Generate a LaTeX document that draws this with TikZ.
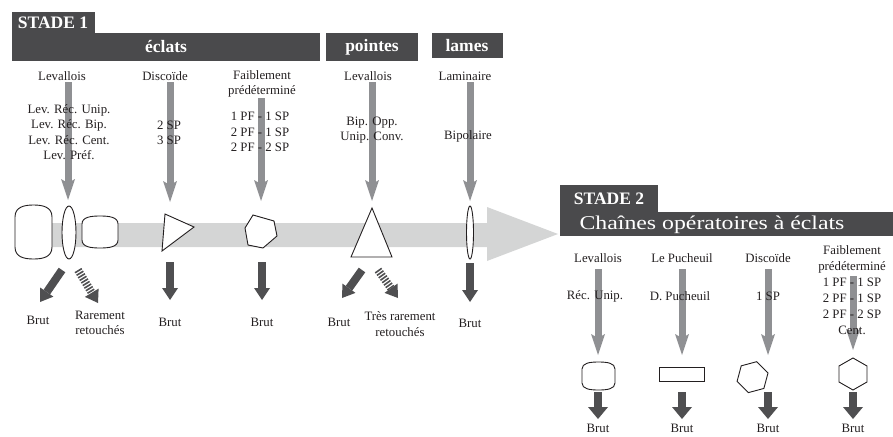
\documentclass[tikz,border=0pt]{standalone}
\usepackage{fontspec}
\setmainfont{Liberation Serif}
\usetikzlibrary{arrows.meta}
\definecolor{hdr}{HTML}{4A4A4C}
\definecolor{garr}{HTML}{8F9093}
\definecolor{darr}{HTML}{4F4F51}
\definecolor{bandc}{HTML}{D4D5D5}
\definecolor{ink}{HTML}{231F20}
\begin{document}
\begin{tikzpicture}[x=1pt,y=-1pt,
  lbl/.style={font=\fontsize{12.8}{15.5}\selectfont, text=ink, inner sep=0pt, align=center},
  hbox/.style={fill=hdr, draw=none},
  htxt/.style={text=white, font=\bfseries\fontsize{17.5}{20}\selectfont, inner sep=0pt},
  garrow/.style={draw=garr, line width=7pt, -{Stealth[length=21pt,width=14pt,inset=4pt,line width=0pt]}},
  darrow/.style={draw=darr, line width=8pt, -{Triangle[length=12pt,width=16pt,line width=0pt]}},
  darrowb/.style={draw=darr, line width=8.5pt, -{Triangle[length=12pt,width=20pt,line width=0pt]}},
  harrow/.style={draw=darr, line width=8pt, dash pattern=on 1.6pt off 1.4pt, -{Triangle[length=12pt,width=16pt,line width=0pt]}},
  shp/.style={draw=ink, line width=0.9pt, fill=white},
]
\useasboundingbox (0,0) rectangle (893,436);

% ---------------- headers
\fill[hbox] (12,12) rectangle (95,34);
\fill[hbox] (12,33) rectangle (320,61);
\fill[hbox] (326,33) rectangle (418,61);
\fill[hbox] (432,33) rectangle (503,58);
\node[htxt] (stade1) at (53,23) {STADE 1};
\node[htxt] (eclats) at (166,47) {éclats};
\node[htxt] (pointes) at (372,47) {pointes};
\node[htxt] (lames) at (467,45.5) {lames};

\fill[hbox] (560,185) rectangle (658,213);
\fill[hbox] (560,212) rectangle (893,236);
\node[htxt] (stade2) at (609,199) {STADE 2};
\node[text=white, inner sep=0pt, font=\fontsize{19.5}{22}\selectfont] (chaines) at (712,225) {\scalebox{1.22}[1]{Chaînes opératoires à éclats}};

% ---------------- big band arrow
\fill[bandc] (20,223) -- (487,223) -- (487,207) -- (558,234) -- (487,261) -- (487,247) -- (20,247) -- cycle;

% ---------------- gray arrows (stage 1)
\coordinate (g1s) at (68,82);   \coordinate (g1e) at (68,200);
\coordinate (g2s) at (170,82);  \coordinate (g2e) at (170,202);
\coordinate (g3s) at (261,98);  \coordinate (g3e) at (261,201);
\coordinate (g4s) at (372,82);  \coordinate (g4e) at (372,201);
\coordinate (g5s) at (470,82);  \coordinate (g5e) at (470,201);
\draw[garrow] (g1s) -- (g1e);
\draw[garrow] (g2s) -- (g2e);
\draw[garrow] (g3s) -- (g3e);
\draw[garrow] (g4s) -- (g4e);
\draw[garrow] (g5s) -- (g5e);

% ---------------- gray arrows (stage 2)
\coordinate (h1s) at (598,269); \coordinate (h1e) at (598,355);
\coordinate (h2s) at (682,269); \coordinate (h2e) at (682,355);
\coordinate (h3s) at (768,269); \coordinate (h3e) at (768,355);
\coordinate (h4s) at (853,276); \coordinate (h4e) at (853,350);
\draw[garrow] (h1s) -- (h1e);
\draw[garrow] (h2s) -- (h2e);
\draw[garrow] (h3s) -- (h3e);
\draw[garrow] (h4s) -- (h4e);

% ---------------- stage 1 shapes
\draw[shp] (15,217) .. controls (15,207) and (24,205) .. (33.5,205)
  .. controls (43,205) and (52,207) .. (52,217) -- (52,247)
  .. controls (52,257) and (43,259) .. (33.5,259)
  .. controls (24,259) and (15,257) .. (15,247) -- cycle;
\draw[shp] (69,232.5) ellipse [x radius=7, y radius=26.5];
\draw[shp] (82,224) .. controls (82,217) and (91,216) .. (100,216)
  .. controls (109,216) and (118,217) .. (118,224) -- (118,240)
  .. controls (118,247) and (109,248) .. (100,248)
  .. controls (91,248) and (82,247) .. (82,240) -- cycle;
\draw[shp] (165,214) -- (194,227) -- (162,251) -- cycle;
\draw[shp] (253,215) -- (274,221) -- (277,236) -- (263,248) -- (248,245) -- (245,228) -- cycle;
\draw[shp] (372,208) -- (392,257) -- (351,257) -- cycle;
\draw[shp] (470,232.5) ellipse [x radius=3.5, y radius=26.5];

% ---------------- stage 2 shapes
\draw[shp] (582,369) .. controls (582,363) and (590,362) .. (598.5,362)
  .. controls (607,362) and (615,363) .. (615,369) -- (615,383)
  .. controls (615,389) and (607,390) .. (598.5,390)
  .. controls (590,390) and (582,389) .. (582,383) -- cycle;
\draw[shp] (659,367) rectangle (704,381);
\draw[shp] (768,373) ++(105:16) -- ++(165:16) -- ++(225:16) -- ++(285:16) -- ++(345:16) -- ++(45:16) -- cycle;
\draw[shp] (853,358) -- (867,366) -- (867,382) -- (853,390) -- (839,382) -- (839,366) -- cycle;

% ---------------- dark arrows stage 1
\coordinate (d1s) at (62,270);  \coordinate (d1e) at (40,302);
\coordinate (d2s) at (78,270);  \coordinate (d2e) at (98,303);
\coordinate (d3s) at (170,262); \coordinate (d3e) at (170,300);
\coordinate (d4s) at (262,262); \coordinate (d4e) at (262,300);
\coordinate (d5s) at (362,270); \coordinate (d5e) at (342,298);
\coordinate (d6s) at (378,270); \coordinate (d6e) at (398,298);
\coordinate (d7s) at (470,263); \coordinate (d7e) at (470,302);
\draw[darrow] (d1s) -- (d1e);
\draw[harrow] (d2s) -- (d2e);
\draw[darrow] (d3s) -- (d3e);
\draw[darrow] (d4s) -- (d4e);
\draw[darrow] (d5s) -- (d5e);
\draw[harrow] (d6s) -- (d6e);
\draw[darrow] (d7s) -- (d7e);

% ---------------- dark arrows stage 2
\coordinate (e1s) at (598,392); \coordinate (e1e) at (598,419);
\coordinate (e2s) at (682,392); \coordinate (e2e) at (682,419);
\coordinate (e3s) at (768,392); \coordinate (e3e) at (768,419);
\coordinate (e4s) at (853,392); \coordinate (e4e) at (853,419);
\draw[darrowb] (e1s) -- (e1e);
\draw[darrowb] (e2s) -- (e2e);
\draw[darrowb] (e3s) -- (e3e);
\draw[darrowb] (e4s) -- (e4e);

% ---------------- stage 1 labels
\node[lbl] (levt) at (62,76) {Levallois};
\node[lbl] (disct) at (165,76) {Discoïde};
\node[lbl] (faibt) at (262,84) {Faiblement\\prédéterminé};
\node[lbl] (levpt) at (368,76) {Levallois};
\node[lbl] (lamt) at (465,76) {Laminaire};
\node[lbl] (levl) at (69,132) {Lev. Réc. Unip.\\Lev. Réc. Bip.\\Lev. Réc. Cent.\\Lev. Préf.};
\node[lbl] (discl) at (169,133) {2 SP\\3 SP};
\node[lbl] (faibl) at (260,132) {1 PF - 1 SP\\2 PF - 1 SP\\2 PF - 2 SP};
\node[lbl] (levpl) at (372,130) {Bip. Opp.\\Unip. Conv.};
\node[lbl] (laml) at (468,136) {Bipolaire};

\node[lbl] (b1) at (38,320) {Brut};
\node[lbl] (r1) at (100,323) {Rarement\\retouchés};
\node[lbl] (b2) at (170,322) {Brut};
\node[lbl] (b3) at (262,322) {Brut};
\node[lbl] (b4) at (339,322) {Brut};
\node[lbl] (r2) at (400,324) {Très rarement\\retouchés};
\node[lbl] (b5) at (470,323) {Brut};

% ---------------- stage 2 labels
\node[lbl] (l2a) at (598,258) {Levallois};
\node[lbl] (l2b) at (682,258) {Le Pucheuil};
\node[lbl] (l2c) at (768,258) {Discoïde};
\node[lbl, font=\fontsize{12.8}{16}\selectfont] (l2d) at (852,290) {Faiblement\\prédéterminé\\1 PF - 1 SP\\2 PF - 1 SP\\2 PF - 2 SP\\Cent.};
\node[lbl] (m2a) at (595,296) {Réc. Unip.};
\node[lbl] (m2b) at (680,296) {D. Pucheuil};
\node[lbl] (m2c) at (768,296) {1 SP};

\node[lbl] (bb1) at (598,428.5) {Brut};
\node[lbl] (bb2) at (682,428.5) {Brut};
\node[lbl] (bb3) at (768,428.5) {Brut};
\node[lbl] (bb4) at (853,428.5) {Brut};
\end{tikzpicture}
\end{document}
